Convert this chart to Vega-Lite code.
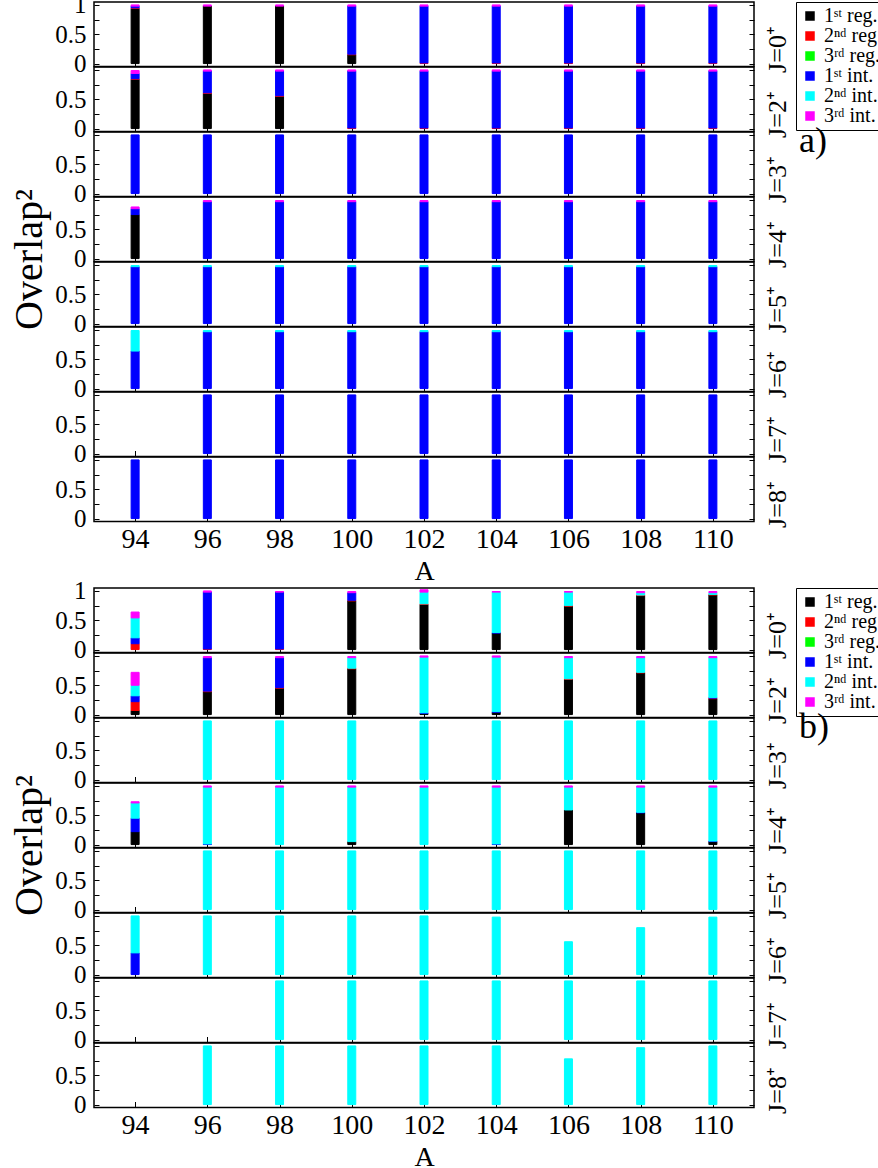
{
"$schema": "https://vega.github.io/schema/vega-lite/v6.json",
"padding": {"left": 9, "top": -8, "right": 0, "bottom": 0},
"config": {
  "font": "Liberation Serif",
  "view": {"stroke": "black", "strokeWidth": 1.5},
  "axis": {"grid": false, "domain": false, "labelFont": "Liberation Serif", "titleFont": "Liberation Serif", "titleFontWeight": "normal", "labelColor": "black", "titleColor": "black", "tickColor": "black"},
  "legend": {"strokeColor": "black", "padding": 4, "symbolType": "square", "symbolSize": 64, "labelFont": "Liberation Serif", "labelFontSize": 20, "labelColor": "black", "rowPadding": 0, "labelLimit": 200}
},
"data": {"values": [
{"p":"a","J":"0","A":94,"k1":0.94,"k2":0.01,"k4":0.03,"k6":0.02},
{"p":"a","J":"0","A":96,"k1":0.98,"k6":0.02},
{"p":"a","J":"0","A":98,"k1":0.98,"k6":0.02},
{"p":"a","J":"0","A":100,"k1":0.15,"k2":0.01,"k4":0.82,"k6":0.02},
{"p":"a","J":"0","A":102,"k2":0.01,"k4":0.97,"k6":0.02},
{"p":"a","J":"0","A":104,"k2":0.01,"k4":0.97,"k6":0.02},
{"p":"a","J":"0","A":106,"k2":0.01,"k4":0.97,"k6":0.02},
{"p":"a","J":"0","A":108,"k2":0.01,"k4":0.97,"k6":0.02},
{"p":"a","J":"0","A":110,"k2":0.01,"k4":0.97,"k6":0.02},
{"p":"a","J":"2","A":94,"k1":0.84,"k2":0.01,"k4":0.09,"k6":0.05},
{"p":"a","J":"2","A":96,"k1":0.6,"k2":0.01,"k4":0.37,"k6":0.02},
{"p":"a","J":"2","A":98,"k1":0.55,"k2":0.01,"k4":0.42,"k6":0.02},
{"p":"a","J":"2","A":100,"k2":0.01,"k4":0.97,"k6":0.02},
{"p":"a","J":"2","A":102,"k2":0.01,"k4":0.97,"k6":0.02},
{"p":"a","J":"2","A":104,"k2":0.01,"k4":0.97,"k6":0.02},
{"p":"a","J":"2","A":106,"k2":0.01,"k4":0.97,"k6":0.02},
{"p":"a","J":"2","A":108,"k2":0.01,"k4":0.97,"k6":0.02},
{"p":"a","J":"2","A":110,"k2":0.01,"k4":0.97,"k6":0.02},
{"p":"a","J":"3","A":94,"k4":1.0},
{"p":"a","J":"3","A":96,"k4":1.0},
{"p":"a","J":"3","A":98,"k4":1.0},
{"p":"a","J":"3","A":100,"k4":1.0},
{"p":"a","J":"3","A":102,"k4":1.0},
{"p":"a","J":"3","A":104,"k4":1.0},
{"p":"a","J":"3","A":106,"k4":1.0},
{"p":"a","J":"3","A":108,"k4":1.0},
{"p":"a","J":"3","A":110,"k4":1.0},
{"p":"a","J":"4","A":94,"k1":0.75,"k4":0.1,"k6":0.03},
{"p":"a","J":"4","A":96,"k4":0.97,"k6":0.02},
{"p":"a","J":"4","A":98,"k4":0.97,"k6":0.02},
{"p":"a","J":"4","A":100,"k4":0.97,"k6":0.02},
{"p":"a","J":"4","A":102,"k4":0.97,"k6":0.02},
{"p":"a","J":"4","A":104,"k4":0.97,"k6":0.02},
{"p":"a","J":"4","A":106,"k4":0.97,"k6":0.02},
{"p":"a","J":"4","A":108,"k4":0.97,"k6":0.02},
{"p":"a","J":"4","A":110,"k4":0.97,"k6":0.02},
{"p":"a","J":"5","A":94,"k4":0.97,"k5":0.02},
{"p":"a","J":"5","A":96,"k4":0.97,"k5":0.02},
{"p":"a","J":"5","A":98,"k4":0.97,"k5":0.02},
{"p":"a","J":"5","A":100,"k4":0.97,"k5":0.02},
{"p":"a","J":"5","A":102,"k4":0.97,"k5":0.02},
{"p":"a","J":"5","A":104,"k4":0.97,"k5":0.02},
{"p":"a","J":"5","A":106,"k4":0.97,"k5":0.02},
{"p":"a","J":"5","A":108,"k4":0.97,"k5":0.02},
{"p":"a","J":"5","A":110,"k4":0.97,"k5":0.02},
{"p":"a","J":"6","A":94,"k4":0.64,"k5":0.35},
{"p":"a","J":"6","A":96,"k4":0.97,"k5":0.02},
{"p":"a","J":"6","A":98,"k4":0.97,"k5":0.02},
{"p":"a","J":"6","A":100,"k4":0.97,"k5":0.02},
{"p":"a","J":"6","A":102,"k4":0.97,"k5":0.02},
{"p":"a","J":"6","A":104,"k4":0.97,"k5":0.02},
{"p":"a","J":"6","A":106,"k4":0.97,"k5":0.02},
{"p":"a","J":"6","A":108,"k4":0.97,"k5":0.02},
{"p":"a","J":"6","A":110,"k4":0.97,"k5":0.02},
{"p":"a","J":"7","A":96,"k4":1.0},
{"p":"a","J":"7","A":98,"k4":1.0},
{"p":"a","J":"7","A":100,"k4":1.0},
{"p":"a","J":"7","A":102,"k4":1.0},
{"p":"a","J":"7","A":104,"k4":1.0},
{"p":"a","J":"7","A":106,"k4":1.0},
{"p":"a","J":"7","A":108,"k4":1.0},
{"p":"a","J":"7","A":110,"k4":1.0},
{"p":"a","J":"8","A":94,"k4":1.0},
{"p":"a","J":"8","A":96,"k4":1.0},
{"p":"a","J":"8","A":98,"k4":1.0},
{"p":"a","J":"8","A":100,"k4":1.0},
{"p":"a","J":"8","A":102,"k4":1.0},
{"p":"a","J":"8","A":104,"k4":1.0},
{"p":"a","J":"8","A":106,"k4":1.0},
{"p":"a","J":"8","A":108,"k4":1.0},
{"p":"a","J":"8","A":110,"k4":1.0},
{"p":"b","J":"0","A":94,"k2":0.1,"k4":0.1,"k5":0.34,"k6":0.1},
{"p":"b","J":"0","A":96,"k2":0.01,"k4":0.97,"k6":0.02},
{"p":"b","J":"0","A":98,"k2":0.01,"k4":0.97,"k6":0.01},
{"p":"b","J":"0","A":100,"k1":0.83,"k2":0.01,"k4":0.13,"k6":0.02},
{"p":"b","J":"0","A":102,"k1":0.77,"k2":0.01,"k5":0.2,"k6":0.04},
{"p":"b","J":"0","A":104,"k1":0.28,"k4":0.01,"k5":0.69,"k6":0.01},
{"p":"b","J":"0","A":106,"k1":0.74,"k2":0.01,"k5":0.23,"k6":0.01},
{"p":"b","J":"0","A":108,"k1":0.92,"k2":0.01,"k5":0.04,"k6":0.02},
{"p":"b","J":"0","A":110,"k1":0.93,"k2":0.01,"k5":0.03,"k6":0.02},
{"p":"b","J":"2","A":94,"k1":0.07,"k2":0.15,"k4":0.1,"k5":0.18,"k6":0.22},
{"p":"b","J":"2","A":96,"k1":0.39,"k2":0.01,"k4":0.57,"k6":0.02},
{"p":"b","J":"2","A":98,"k1":0.45,"k2":0.01,"k4":0.51,"k6":0.02},
{"p":"b","J":"2","A":100,"k1":0.78,"k2":0.01,"k5":0.18,"k6":0.02},
{"p":"b","J":"2","A":102,"k1":0.02,"k4":0.01,"k5":0.95,"k6":0.02},
{"p":"b","J":"2","A":104,"k1":0.04,"k4":0.01,"k5":0.93,"k6":0.02},
{"p":"b","J":"2","A":106,"k1":0.6,"k2":0.01,"k5":0.36,"k6":0.02},
{"p":"b","J":"2","A":108,"k1":0.71,"k2":0.01,"k5":0.25,"k6":0.02},
{"p":"b","J":"2","A":110,"k1":0.27,"k2":0.01,"k4":0.01,"k5":0.68,"k6":0.02},
{"p":"b","J":"3","A":96,"k5":1.0},
{"p":"b","J":"3","A":98,"k5":1.0},
{"p":"b","J":"3","A":100,"k5":1.0},
{"p":"b","J":"3","A":102,"k5":1.0},
{"p":"b","J":"3","A":104,"k5":1.0},
{"p":"b","J":"3","A":106,"k5":1.0},
{"p":"b","J":"3","A":108,"k5":1.0},
{"p":"b","J":"3","A":110,"k5":1.0},
{"p":"b","J":"4","A":94,"k1":0.22,"k4":0.23,"k5":0.26,"k6":0.02},
{"p":"b","J":"4","A":96,"k4":0.01,"k5":0.97,"k6":0.02},
{"p":"b","J":"4","A":98,"k5":0.98,"k6":0.02},
{"p":"b","J":"4","A":100,"k1":0.05,"k5":0.93,"k6":0.02},
{"p":"b","J":"4","A":102,"k5":0.98,"k6":0.02},
{"p":"b","J":"4","A":104,"k4":0.01,"k5":0.97,"k6":0.02},
{"p":"b","J":"4","A":106,"k1":0.59,"k5":0.39,"k6":0.02},
{"p":"b","J":"4","A":108,"k1":0.54,"k4":0.01,"k5":0.43,"k6":0.02},
{"p":"b","J":"4","A":110,"k1":0.05,"k4":0.01,"k5":0.92,"k6":0.02},
{"p":"b","J":"5","A":96,"k5":1.0},
{"p":"b","J":"5","A":98,"k5":1.0},
{"p":"b","J":"5","A":100,"k5":1.0},
{"p":"b","J":"5","A":102,"k5":1.0},
{"p":"b","J":"5","A":104,"k5":1.0},
{"p":"b","J":"5","A":106,"k5":1.0},
{"p":"b","J":"5","A":108,"k5":1.0},
{"p":"b","J":"5","A":110,"k5":1.0},
{"p":"b","J":"6","A":94,"k4":0.37,"k5":0.63},
{"p":"b","J":"6","A":96,"k5":1.0},
{"p":"b","J":"6","A":98,"k5":1.0},
{"p":"b","J":"6","A":100,"k5":1.0},
{"p":"b","J":"6","A":102,"k5":1.0},
{"p":"b","J":"6","A":104,"k5":0.98},
{"p":"b","J":"6","A":106,"k5":0.56},
{"p":"b","J":"6","A":108,"k5":0.8},
{"p":"b","J":"6","A":110,"k5":0.98},
{"p":"b","J":"7","A":98,"k5":1.0},
{"p":"b","J":"7","A":100,"k5":1.0},
{"p":"b","J":"7","A":102,"k5":1.0},
{"p":"b","J":"7","A":104,"k5":1.0},
{"p":"b","J":"7","A":106,"k5":1.0},
{"p":"b","J":"7","A":108,"k5":1.0},
{"p":"b","J":"7","A":110,"k5":1.0},
{"p":"b","J":"8","A":96,"k5":1.0},
{"p":"b","J":"8","A":98,"k5":1.0},
{"p":"b","J":"8","A":100,"k5":1.0},
{"p":"b","J":"8","A":102,"k5":1.0},
{"p":"b","J":"8","A":104,"k5":1.0},
{"p":"b","J":"8","A":106,"k5":0.78},
{"p":"b","J":"8","A":108,"k5":0.97},
{"p":"b","J":"8","A":110,"k5":1.0}
]},
"bounds": "flush",
"spacing": 0,
"resolve": {"scale": {"fill": "independent", "stroke": "independent", "shape": "independent"}},
"vconcat": [
 {"transform": [{"filter": "datum.p == 'a' && datum.J == '0'"}, {"fold": ["k1","k2","k3","k4","k5","k6"]}, {"filter": "datum.value > 0"}],
  "width": 660, "height": 64.5, "resolve": {"axis": {"y": "independent"}},
  "layer": [
   {"mark": {"type": "bar", "size": 8, "strokeWidth": 1},
    "encoding": {
     "x": {"field": "A", "type": "quantitative", "scale": {"domain": [93, 111], "nice": false, "zero": false}, "axis": {"values": [94,96,98,100,102,104,106,108,110], "labels": false, "title": null, "tickSize": -6}},
     "y": {"field": "value", "type": "quantitative", "stack": "zero", "scale": {"domain": [-0.05, 1.05], "nice": false, "zero": false}, "axis": {"values": [0,0.25,0.5,0.75,1], "format": "~g", "labelExpr": "datum.value == 0.25 || datum.value == 0.75 ? '' : datum.label", "title": null, "labelFontSize": 25, "tickSize": -5, "labelPadding": 13}},
     "fill": {"field": "key", "type": "nominal", "scale": {"domain": ["k1","k2","k3","k4","k5","k6"], "range": ["#000000","#ff0000","#00ff00","#0000ff","#00ffff","#ff00ff"]}, "legend": {"title": null, "orient": "none", "legendX": 702, "legendY": 0, "labelExpr": "{'k1':'1ˢᵗ reg.','k2':'2ⁿᵈ reg.','k3':'3ʳᵈ reg.','k4':'1ˢᵗ int.','k5':'2ⁿᵈ int.','k6':'3ʳᵈ int.'}[datum.value]"}},
     "stroke": {"field": "key", "type": "nominal", "scale": {"domain": ["k1","k2","k3","k4","k5","k6"], "range": ["#000000","#ff0000","#00ff00","#0000ff","#00ffff","#ff00ff"]}, "legend": null},
     "order": {"field": "key", "sort": "ascending"}}},
   {"mark": {"type": "rule", "opacity": 0}, "encoding": {"y": {"field": "value", "type": "quantitative", "axis": {"orient": "right", "values": [0,0.25,0.5,0.75,1], "labels": false, "tickSize": -5, "title": "J=0⁺", "titleAngle": -90, "titleBaseline": "top", "titleFontSize": 26, "titlePadding": 10, "titleY": 47}}}},
   {"mark": {"type": "point", "opacity": 0}, "encoding": {"shape": {"datum": "a)", "legend": {"title": null, "orient": "none", "legendX": 669, "legendY": 121, "strokeColor": "rgba(0,0,0,0)", "symbolOpacity": 0, "symbolSize": 1, "labelFontSize": 36, "padding": 0, "labelOffset": 0}}}}
  ]},
 {"transform": [{"filter": "datum.p == 'a' && datum.J == '2'"}, {"fold": ["k1","k2","k3","k4","k5","k6"]}, {"filter": "datum.value > 0"}],
  "width": 660, "height": 64.5, "resolve": {"axis": {"y": "independent"}},
  "layer": [
   {"mark": {"type": "bar", "size": 8, "strokeWidth": 1},
    "encoding": {
     "x": {"field": "A", "type": "quantitative", "scale": {"domain": [93, 111], "nice": false, "zero": false}, "axis": {"values": [94,96,98,100,102,104,106,108,110], "labels": false, "title": null, "tickSize": -6}},
     "y": {"field": "value", "type": "quantitative", "stack": "zero", "scale": {"domain": [-0.05, 1.05], "nice": false, "zero": false}, "axis": {"values": [0,0.25,0.5,0.75,1], "format": "~g", "labelExpr": "datum.value == 0 || datum.value == 0.5 ? datum.label : ''", "title": null, "labelFontSize": 25, "tickSize": -5, "labelPadding": 13}},
     "fill": {"field": "key", "type": "nominal", "scale": {"domain": ["k1","k2","k3","k4","k5","k6"], "range": ["#000000","#ff0000","#00ff00","#0000ff","#00ffff","#ff00ff"]}, "legend": null},
     "stroke": {"field": "key", "type": "nominal", "scale": {"domain": ["k1","k2","k3","k4","k5","k6"], "range": ["#000000","#ff0000","#00ff00","#0000ff","#00ffff","#ff00ff"]}, "legend": null},
     "order": {"field": "key", "sort": "ascending"}}},
   {"mark": {"type": "rule", "opacity": 0}, "encoding": {"y": {"field": "value", "type": "quantitative", "axis": {"orient": "right", "values": [0,0.25,0.5,0.75,1], "labels": false, "tickSize": -5, "title": "J=2⁺", "titleAngle": -90, "titleBaseline": "top", "titleFontSize": 26, "titlePadding": 10, "titleY": 47}}}}
  ]},
 {"transform": [{"filter": "datum.p == 'a' && datum.J == '3'"}, {"fold": ["k1","k2","k3","k4","k5","k6"]}, {"filter": "datum.value > 0"}],
  "width": 660, "height": 64.5, "resolve": {"axis": {"y": "independent"}},
  "layer": [
   {"mark": {"type": "bar", "size": 8, "strokeWidth": 1},
    "encoding": {
     "x": {"field": "A", "type": "quantitative", "scale": {"domain": [93, 111], "nice": false, "zero": false}, "axis": {"values": [94,96,98,100,102,104,106,108,110], "labels": false, "title": null, "tickSize": -6}},
     "y": {"field": "value", "type": "quantitative", "stack": "zero", "scale": {"domain": [-0.05, 1.05], "nice": false, "zero": false}, "axis": {"values": [0,0.25,0.5,0.75,1], "format": "~g", "labelExpr": "datum.value == 0 || datum.value == 0.5 ? datum.label : ''", "title": null, "labelFontSize": 25, "tickSize": -5, "labelPadding": 13}},
     "fill": {"field": "key", "type": "nominal", "scale": {"domain": ["k1","k2","k3","k4","k5","k6"], "range": ["#000000","#ff0000","#00ff00","#0000ff","#00ffff","#ff00ff"]}, "legend": null},
     "stroke": {"field": "key", "type": "nominal", "scale": {"domain": ["k1","k2","k3","k4","k5","k6"], "range": ["#000000","#ff0000","#00ff00","#0000ff","#00ffff","#ff00ff"]}, "legend": null},
     "order": {"field": "key", "sort": "ascending"}}},
   {"mark": {"type": "rule", "opacity": 0}, "encoding": {"y": {"field": "value", "type": "quantitative", "axis": {"orient": "right", "values": [0,0.25,0.5,0.75,1], "labels": false, "tickSize": -5, "title": "J=3⁺", "titleAngle": -90, "titleBaseline": "top", "titleFontSize": 26, "titlePadding": 10, "titleY": 47}}}}
  ]},
 {"transform": [{"filter": "datum.p == 'a' && datum.J == '4'"}, {"fold": ["k1","k2","k3","k4","k5","k6"]}, {"filter": "datum.value > 0"}],
  "width": 660, "height": 64.5, "resolve": {"axis": {"y": "independent"}},
  "layer": [
   {"mark": {"type": "bar", "size": 8, "strokeWidth": 1},
    "encoding": {
     "x": {"field": "A", "type": "quantitative", "scale": {"domain": [93, 111], "nice": false, "zero": false}, "axis": {"values": [94,96,98,100,102,104,106,108,110], "labels": false, "title": null, "tickSize": -6}},
     "y": {"field": "value", "type": "quantitative", "stack": "zero", "scale": {"domain": [-0.05, 1.05], "nice": false, "zero": false}, "axis": {"values": [0,0.25,0.5,0.75,1], "format": "~g", "labelExpr": "datum.value == 0 || datum.value == 0.5 ? datum.label : ''", "title": "Overlap²", "titleFontSize": 40, "titlePadding": 5, "titleY": 62, "labelFontSize": 25, "tickSize": -5, "labelPadding": 13}},
     "fill": {"field": "key", "type": "nominal", "scale": {"domain": ["k1","k2","k3","k4","k5","k6"], "range": ["#000000","#ff0000","#00ff00","#0000ff","#00ffff","#ff00ff"]}, "legend": null},
     "stroke": {"field": "key", "type": "nominal", "scale": {"domain": ["k1","k2","k3","k4","k5","k6"], "range": ["#000000","#ff0000","#00ff00","#0000ff","#00ffff","#ff00ff"]}, "legend": null},
     "order": {"field": "key", "sort": "ascending"}}},
   {"mark": {"type": "rule", "opacity": 0}, "encoding": {"y": {"field": "value", "type": "quantitative", "axis": {"orient": "right", "values": [0,0.25,0.5,0.75,1], "labels": false, "tickSize": -5, "title": "J=4⁺", "titleAngle": -90, "titleBaseline": "top", "titleFontSize": 26, "titlePadding": 10, "titleY": 47}}}}
  ]},
 {"transform": [{"filter": "datum.p == 'a' && datum.J == '5'"}, {"fold": ["k1","k2","k3","k4","k5","k6"]}, {"filter": "datum.value > 0"}],
  "width": 660, "height": 64.5, "resolve": {"axis": {"y": "independent"}},
  "layer": [
   {"mark": {"type": "bar", "size": 8, "strokeWidth": 1},
    "encoding": {
     "x": {"field": "A", "type": "quantitative", "scale": {"domain": [93, 111], "nice": false, "zero": false}, "axis": {"values": [94,96,98,100,102,104,106,108,110], "labels": false, "title": null, "tickSize": -6}},
     "y": {"field": "value", "type": "quantitative", "stack": "zero", "scale": {"domain": [-0.05, 1.05], "nice": false, "zero": false}, "axis": {"values": [0,0.25,0.5,0.75,1], "format": "~g", "labelExpr": "datum.value == 0 || datum.value == 0.5 ? datum.label : ''", "title": null, "labelFontSize": 25, "tickSize": -5, "labelPadding": 13}},
     "fill": {"field": "key", "type": "nominal", "scale": {"domain": ["k1","k2","k3","k4","k5","k6"], "range": ["#000000","#ff0000","#00ff00","#0000ff","#00ffff","#ff00ff"]}, "legend": null},
     "stroke": {"field": "key", "type": "nominal", "scale": {"domain": ["k1","k2","k3","k4","k5","k6"], "range": ["#000000","#ff0000","#00ff00","#0000ff","#00ffff","#ff00ff"]}, "legend": null},
     "order": {"field": "key", "sort": "ascending"}}},
   {"mark": {"type": "rule", "opacity": 0}, "encoding": {"y": {"field": "value", "type": "quantitative", "axis": {"orient": "right", "values": [0,0.25,0.5,0.75,1], "labels": false, "tickSize": -5, "title": "J=5⁺", "titleAngle": -90, "titleBaseline": "top", "titleFontSize": 26, "titlePadding": 10, "titleY": 47}}}}
  ]},
 {"transform": [{"filter": "datum.p == 'a' && datum.J == '6'"}, {"fold": ["k1","k2","k3","k4","k5","k6"]}, {"filter": "datum.value > 0"}],
  "width": 660, "height": 64.5, "resolve": {"axis": {"y": "independent"}},
  "layer": [
   {"mark": {"type": "bar", "size": 8, "strokeWidth": 1},
    "encoding": {
     "x": {"field": "A", "type": "quantitative", "scale": {"domain": [93, 111], "nice": false, "zero": false}, "axis": {"values": [94,96,98,100,102,104,106,108,110], "labels": false, "title": null, "tickSize": -6}},
     "y": {"field": "value", "type": "quantitative", "stack": "zero", "scale": {"domain": [-0.05, 1.05], "nice": false, "zero": false}, "axis": {"values": [0,0.25,0.5,0.75,1], "format": "~g", "labelExpr": "datum.value == 0 || datum.value == 0.5 ? datum.label : ''", "title": null, "labelFontSize": 25, "tickSize": -5, "labelPadding": 13}},
     "fill": {"field": "key", "type": "nominal", "scale": {"domain": ["k1","k2","k3","k4","k5","k6"], "range": ["#000000","#ff0000","#00ff00","#0000ff","#00ffff","#ff00ff"]}, "legend": null},
     "stroke": {"field": "key", "type": "nominal", "scale": {"domain": ["k1","k2","k3","k4","k5","k6"], "range": ["#000000","#ff0000","#00ff00","#0000ff","#00ffff","#ff00ff"]}, "legend": null},
     "order": {"field": "key", "sort": "ascending"}}},
   {"mark": {"type": "rule", "opacity": 0}, "encoding": {"y": {"field": "value", "type": "quantitative", "axis": {"orient": "right", "values": [0,0.25,0.5,0.75,1], "labels": false, "tickSize": -5, "title": "J=6⁺", "titleAngle": -90, "titleBaseline": "top", "titleFontSize": 26, "titlePadding": 10, "titleY": 47}}}}
  ]},
 {"transform": [{"filter": "datum.p == 'a' && datum.J == '7'"}, {"fold": ["k1","k2","k3","k4","k5","k6"]}, {"filter": "datum.value > 0"}],
  "width": 660, "height": 64.5, "resolve": {"axis": {"y": "independent"}},
  "layer": [
   {"mark": {"type": "bar", "size": 8, "strokeWidth": 1},
    "encoding": {
     "x": {"field": "A", "type": "quantitative", "scale": {"domain": [93, 111], "nice": false, "zero": false}, "axis": {"values": [94,96,98,100,102,104,106,108,110], "labels": false, "title": null, "tickSize": -6}},
     "y": {"field": "value", "type": "quantitative", "stack": "zero", "scale": {"domain": [-0.05, 1.05], "nice": false, "zero": false}, "axis": {"values": [0,0.25,0.5,0.75,1], "format": "~g", "labelExpr": "datum.value == 0 || datum.value == 0.5 ? datum.label : ''", "title": null, "labelFontSize": 25, "tickSize": -5, "labelPadding": 13}},
     "fill": {"field": "key", "type": "nominal", "scale": {"domain": ["k1","k2","k3","k4","k5","k6"], "range": ["#000000","#ff0000","#00ff00","#0000ff","#00ffff","#ff00ff"]}, "legend": null},
     "stroke": {"field": "key", "type": "nominal", "scale": {"domain": ["k1","k2","k3","k4","k5","k6"], "range": ["#000000","#ff0000","#00ff00","#0000ff","#00ffff","#ff00ff"]}, "legend": null},
     "order": {"field": "key", "sort": "ascending"}}},
   {"mark": {"type": "rule", "opacity": 0}, "encoding": {"y": {"field": "value", "type": "quantitative", "axis": {"orient": "right", "values": [0,0.25,0.5,0.75,1], "labels": false, "tickSize": -5, "title": "J=7⁺", "titleAngle": -90, "titleBaseline": "top", "titleFontSize": 26, "titlePadding": 10, "titleY": 47}}}}
  ]},
 {"transform": [{"filter": "datum.p == 'a' && datum.J == '8'"}, {"fold": ["k1","k2","k3","k4","k5","k6"]}, {"filter": "datum.value > 0"}],
  "width": 660, "height": 64.5, "resolve": {"axis": {"y": "independent"}},
  "layer": [
   {"mark": {"type": "bar", "size": 8, "strokeWidth": 1},
    "encoding": {
     "x": {"field": "A", "type": "quantitative", "scale": {"domain": [93, 111], "nice": false, "zero": false}, "axis": {"values": [94,96,98,100,102,104,106,108,110], "title": "A", "labelFontSize": 28, "titleFontSize": 28, "tickSize": -6, "labelPadding": 10, "titlePadding": 4}},
     "y": {"field": "value", "type": "quantitative", "stack": "zero", "scale": {"domain": [-0.05, 1.05], "nice": false, "zero": false}, "axis": {"values": [0,0.25,0.5,0.75,1], "format": "~g", "labelExpr": "datum.value == 0 || datum.value == 0.5 ? datum.label : ''", "title": null, "labelFontSize": 25, "tickSize": -5, "labelPadding": 13}},
     "fill": {"field": "key", "type": "nominal", "scale": {"domain": ["k1","k2","k3","k4","k5","k6"], "range": ["#000000","#ff0000","#00ff00","#0000ff","#00ffff","#ff00ff"]}, "legend": null},
     "stroke": {"field": "key", "type": "nominal", "scale": {"domain": ["k1","k2","k3","k4","k5","k6"], "range": ["#000000","#ff0000","#00ff00","#0000ff","#00ffff","#ff00ff"]}, "legend": null},
     "order": {"field": "key", "sort": "ascending"}}},
   {"mark": {"type": "rule", "opacity": 0}, "encoding": {"y": {"field": "value", "type": "quantitative", "axis": {"orient": "right", "values": [0,0.25,0.5,0.75,1], "labels": false, "tickSize": -5, "title": "J=8⁺", "titleAngle": -90, "titleBaseline": "top", "titleFontSize": 26, "titlePadding": 10, "titleY": 47}}}}
  ]},
 {"data": {"values": []}, "mark": {"type": "point", "opacity": 0}, "width": 660, "height": 66, "view": {"stroke": null}},
 {"transform": [{"filter": "datum.p == 'b' && datum.J == '0'"}, {"fold": ["k1","k2","k3","k4","k5","k6"]}, {"filter": "datum.value > 0"}],
  "width": 660, "height": 64.5, "resolve": {"axis": {"y": "independent"}},
  "layer": [
   {"mark": {"type": "bar", "size": 8, "strokeWidth": 1},
    "encoding": {
     "x": {"field": "A", "type": "quantitative", "scale": {"domain": [93, 111], "nice": false, "zero": false}, "axis": {"values": [94,96,98,100,102,104,106,108,110], "labels": false, "title": null, "tickSize": -6}},
     "y": {"field": "value", "type": "quantitative", "stack": "zero", "scale": {"domain": [-0.05, 1.05], "nice": false, "zero": false}, "axis": {"values": [0,0.25,0.5,0.75,1], "format": "~g", "labelExpr": "datum.value == 0.25 || datum.value == 0.75 ? '' : datum.label", "title": null, "labelFontSize": 25, "tickSize": -5, "labelPadding": 13}},
     "fill": {"field": "key", "type": "nominal", "scale": {"domain": ["k1","k2","k3","k4","k5","k6"], "range": ["#000000","#ff0000","#00ff00","#0000ff","#00ffff","#ff00ff"]}, "legend": {"title": null, "orient": "none", "legendX": 702, "legendY": 0, "labelExpr": "{'k1':'1ˢᵗ reg.','k2':'2ⁿᵈ reg.','k3':'3ʳᵈ reg.','k4':'1ˢᵗ int.','k5':'2ⁿᵈ int.','k6':'3ʳᵈ int.'}[datum.value]"}},
     "stroke": {"field": "key", "type": "nominal", "scale": {"domain": ["k1","k2","k3","k4","k5","k6"], "range": ["#000000","#ff0000","#00ff00","#0000ff","#00ffff","#ff00ff"]}, "legend": null},
     "order": {"field": "key", "sort": "ascending"}}},
   {"mark": {"type": "rule", "opacity": 0}, "encoding": {"y": {"field": "value", "type": "quantitative", "axis": {"orient": "right", "values": [0,0.25,0.5,0.75,1], "labels": false, "tickSize": -5, "title": "J=0⁺", "titleAngle": -90, "titleBaseline": "top", "titleFontSize": 26, "titlePadding": 10, "titleY": 47}}}},
   {"mark": {"type": "point", "opacity": 0}, "encoding": {"shape": {"datum": "b)", "legend": {"title": null, "orient": "none", "legendX": 669, "legendY": 121, "strokeColor": "rgba(0,0,0,0)", "symbolOpacity": 0, "symbolSize": 1, "labelFontSize": 36, "padding": 0, "labelOffset": 0}}}}
  ]},
 {"transform": [{"filter": "datum.p == 'b' && datum.J == '2'"}, {"fold": ["k1","k2","k3","k4","k5","k6"]}, {"filter": "datum.value > 0"}],
  "width": 660, "height": 64.5, "resolve": {"axis": {"y": "independent"}},
  "layer": [
   {"mark": {"type": "bar", "size": 8, "strokeWidth": 1},
    "encoding": {
     "x": {"field": "A", "type": "quantitative", "scale": {"domain": [93, 111], "nice": false, "zero": false}, "axis": {"values": [94,96,98,100,102,104,106,108,110], "labels": false, "title": null, "tickSize": -6}},
     "y": {"field": "value", "type": "quantitative", "stack": "zero", "scale": {"domain": [-0.05, 1.05], "nice": false, "zero": false}, "axis": {"values": [0,0.25,0.5,0.75,1], "format": "~g", "labelExpr": "datum.value == 0 || datum.value == 0.5 ? datum.label : ''", "title": null, "labelFontSize": 25, "tickSize": -5, "labelPadding": 13}},
     "fill": {"field": "key", "type": "nominal", "scale": {"domain": ["k1","k2","k3","k4","k5","k6"], "range": ["#000000","#ff0000","#00ff00","#0000ff","#00ffff","#ff00ff"]}, "legend": null},
     "stroke": {"field": "key", "type": "nominal", "scale": {"domain": ["k1","k2","k3","k4","k5","k6"], "range": ["#000000","#ff0000","#00ff00","#0000ff","#00ffff","#ff00ff"]}, "legend": null},
     "order": {"field": "key", "sort": "ascending"}}},
   {"mark": {"type": "rule", "opacity": 0}, "encoding": {"y": {"field": "value", "type": "quantitative", "axis": {"orient": "right", "values": [0,0.25,0.5,0.75,1], "labels": false, "tickSize": -5, "title": "J=2⁺", "titleAngle": -90, "titleBaseline": "top", "titleFontSize": 26, "titlePadding": 10, "titleY": 47}}}}
  ]},
 {"transform": [{"filter": "datum.p == 'b' && datum.J == '3'"}, {"fold": ["k1","k2","k3","k4","k5","k6"]}, {"filter": "datum.value > 0"}],
  "width": 660, "height": 64.5, "resolve": {"axis": {"y": "independent"}},
  "layer": [
   {"mark": {"type": "bar", "size": 8, "strokeWidth": 1},
    "encoding": {
     "x": {"field": "A", "type": "quantitative", "scale": {"domain": [93, 111], "nice": false, "zero": false}, "axis": {"values": [94,96,98,100,102,104,106,108,110], "labels": false, "title": null, "tickSize": -6}},
     "y": {"field": "value", "type": "quantitative", "stack": "zero", "scale": {"domain": [-0.05, 1.05], "nice": false, "zero": false}, "axis": {"values": [0,0.25,0.5,0.75,1], "format": "~g", "labelExpr": "datum.value == 0 || datum.value == 0.5 ? datum.label : ''", "title": null, "labelFontSize": 25, "tickSize": -5, "labelPadding": 13}},
     "fill": {"field": "key", "type": "nominal", "scale": {"domain": ["k1","k2","k3","k4","k5","k6"], "range": ["#000000","#ff0000","#00ff00","#0000ff","#00ffff","#ff00ff"]}, "legend": null},
     "stroke": {"field": "key", "type": "nominal", "scale": {"domain": ["k1","k2","k3","k4","k5","k6"], "range": ["#000000","#ff0000","#00ff00","#0000ff","#00ffff","#ff00ff"]}, "legend": null},
     "order": {"field": "key", "sort": "ascending"}}},
   {"mark": {"type": "rule", "opacity": 0}, "encoding": {"y": {"field": "value", "type": "quantitative", "axis": {"orient": "right", "values": [0,0.25,0.5,0.75,1], "labels": false, "tickSize": -5, "title": "J=3⁺", "titleAngle": -90, "titleBaseline": "top", "titleFontSize": 26, "titlePadding": 10, "titleY": 47}}}}
  ]},
 {"transform": [{"filter": "datum.p == 'b' && datum.J == '4'"}, {"fold": ["k1","k2","k3","k4","k5","k6"]}, {"filter": "datum.value > 0"}],
  "width": 660, "height": 64.5, "resolve": {"axis": {"y": "independent"}},
  "layer": [
   {"mark": {"type": "bar", "size": 8, "strokeWidth": 1},
    "encoding": {
     "x": {"field": "A", "type": "quantitative", "scale": {"domain": [93, 111], "nice": false, "zero": false}, "axis": {"values": [94,96,98,100,102,104,106,108,110], "labels": false, "title": null, "tickSize": -6}},
     "y": {"field": "value", "type": "quantitative", "stack": "zero", "scale": {"domain": [-0.05, 1.05], "nice": false, "zero": false}, "axis": {"values": [0,0.25,0.5,0.75,1], "format": "~g", "labelExpr": "datum.value == 0 || datum.value == 0.5 ? datum.label : ''", "title": "Overlap²", "titleFontSize": 40, "titlePadding": 5, "titleY": 62, "labelFontSize": 25, "tickSize": -5, "labelPadding": 13}},
     "fill": {"field": "key", "type": "nominal", "scale": {"domain": ["k1","k2","k3","k4","k5","k6"], "range": ["#000000","#ff0000","#00ff00","#0000ff","#00ffff","#ff00ff"]}, "legend": null},
     "stroke": {"field": "key", "type": "nominal", "scale": {"domain": ["k1","k2","k3","k4","k5","k6"], "range": ["#000000","#ff0000","#00ff00","#0000ff","#00ffff","#ff00ff"]}, "legend": null},
     "order": {"field": "key", "sort": "ascending"}}},
   {"mark": {"type": "rule", "opacity": 0}, "encoding": {"y": {"field": "value", "type": "quantitative", "axis": {"orient": "right", "values": [0,0.25,0.5,0.75,1], "labels": false, "tickSize": -5, "title": "J=4⁺", "titleAngle": -90, "titleBaseline": "top", "titleFontSize": 26, "titlePadding": 10, "titleY": 47}}}}
  ]},
 {"transform": [{"filter": "datum.p == 'b' && datum.J == '5'"}, {"fold": ["k1","k2","k3","k4","k5","k6"]}, {"filter": "datum.value > 0"}],
  "width": 660, "height": 64.5, "resolve": {"axis": {"y": "independent"}},
  "layer": [
   {"mark": {"type": "bar", "size": 8, "strokeWidth": 1},
    "encoding": {
     "x": {"field": "A", "type": "quantitative", "scale": {"domain": [93, 111], "nice": false, "zero": false}, "axis": {"values": [94,96,98,100,102,104,106,108,110], "labels": false, "title": null, "tickSize": -6}},
     "y": {"field": "value", "type": "quantitative", "stack": "zero", "scale": {"domain": [-0.05, 1.05], "nice": false, "zero": false}, "axis": {"values": [0,0.25,0.5,0.75,1], "format": "~g", "labelExpr": "datum.value == 0 || datum.value == 0.5 ? datum.label : ''", "title": null, "labelFontSize": 25, "tickSize": -5, "labelPadding": 13}},
     "fill": {"field": "key", "type": "nominal", "scale": {"domain": ["k1","k2","k3","k4","k5","k6"], "range": ["#000000","#ff0000","#00ff00","#0000ff","#00ffff","#ff00ff"]}, "legend": null},
     "stroke": {"field": "key", "type": "nominal", "scale": {"domain": ["k1","k2","k3","k4","k5","k6"], "range": ["#000000","#ff0000","#00ff00","#0000ff","#00ffff","#ff00ff"]}, "legend": null},
     "order": {"field": "key", "sort": "ascending"}}},
   {"mark": {"type": "rule", "opacity": 0}, "encoding": {"y": {"field": "value", "type": "quantitative", "axis": {"orient": "right", "values": [0,0.25,0.5,0.75,1], "labels": false, "tickSize": -5, "title": "J=5⁺", "titleAngle": -90, "titleBaseline": "top", "titleFontSize": 26, "titlePadding": 10, "titleY": 47}}}}
  ]},
 {"transform": [{"filter": "datum.p == 'b' && datum.J == '6'"}, {"fold": ["k1","k2","k3","k4","k5","k6"]}, {"filter": "datum.value > 0"}],
  "width": 660, "height": 64.5, "resolve": {"axis": {"y": "independent"}},
  "layer": [
   {"mark": {"type": "bar", "size": 8, "strokeWidth": 1},
    "encoding": {
     "x": {"field": "A", "type": "quantitative", "scale": {"domain": [93, 111], "nice": false, "zero": false}, "axis": {"values": [94,96,98,100,102,104,106,108,110], "labels": false, "title": null, "tickSize": -6}},
     "y": {"field": "value", "type": "quantitative", "stack": "zero", "scale": {"domain": [-0.05, 1.05], "nice": false, "zero": false}, "axis": {"values": [0,0.25,0.5,0.75,1], "format": "~g", "labelExpr": "datum.value == 0 || datum.value == 0.5 ? datum.label : ''", "title": null, "labelFontSize": 25, "tickSize": -5, "labelPadding": 13}},
     "fill": {"field": "key", "type": "nominal", "scale": {"domain": ["k1","k2","k3","k4","k5","k6"], "range": ["#000000","#ff0000","#00ff00","#0000ff","#00ffff","#ff00ff"]}, "legend": null},
     "stroke": {"field": "key", "type": "nominal", "scale": {"domain": ["k1","k2","k3","k4","k5","k6"], "range": ["#000000","#ff0000","#00ff00","#0000ff","#00ffff","#ff00ff"]}, "legend": null},
     "order": {"field": "key", "sort": "ascending"}}},
   {"mark": {"type": "rule", "opacity": 0}, "encoding": {"y": {"field": "value", "type": "quantitative", "axis": {"orient": "right", "values": [0,0.25,0.5,0.75,1], "labels": false, "tickSize": -5, "title": "J=6⁺", "titleAngle": -90, "titleBaseline": "top", "titleFontSize": 26, "titlePadding": 10, "titleY": 47}}}}
  ]},
 {"transform": [{"filter": "datum.p == 'b' && datum.J == '7'"}, {"fold": ["k1","k2","k3","k4","k5","k6"]}, {"filter": "datum.value > 0"}],
  "width": 660, "height": 64.5, "resolve": {"axis": {"y": "independent"}},
  "layer": [
   {"mark": {"type": "bar", "size": 8, "strokeWidth": 1},
    "encoding": {
     "x": {"field": "A", "type": "quantitative", "scale": {"domain": [93, 111], "nice": false, "zero": false}, "axis": {"values": [94,96,98,100,102,104,106,108,110], "labels": false, "title": null, "tickSize": -6}},
     "y": {"field": "value", "type": "quantitative", "stack": "zero", "scale": {"domain": [-0.05, 1.05], "nice": false, "zero": false}, "axis": {"values": [0,0.25,0.5,0.75,1], "format": "~g", "labelExpr": "datum.value == 0 || datum.value == 0.5 ? datum.label : ''", "title": null, "labelFontSize": 25, "tickSize": -5, "labelPadding": 13}},
     "fill": {"field": "key", "type": "nominal", "scale": {"domain": ["k1","k2","k3","k4","k5","k6"], "range": ["#000000","#ff0000","#00ff00","#0000ff","#00ffff","#ff00ff"]}, "legend": null},
     "stroke": {"field": "key", "type": "nominal", "scale": {"domain": ["k1","k2","k3","k4","k5","k6"], "range": ["#000000","#ff0000","#00ff00","#0000ff","#00ffff","#ff00ff"]}, "legend": null},
     "order": {"field": "key", "sort": "ascending"}}},
   {"mark": {"type": "rule", "opacity": 0}, "encoding": {"y": {"field": "value", "type": "quantitative", "axis": {"orient": "right", "values": [0,0.25,0.5,0.75,1], "labels": false, "tickSize": -5, "title": "J=7⁺", "titleAngle": -90, "titleBaseline": "top", "titleFontSize": 26, "titlePadding": 10, "titleY": 47}}}}
  ]},
 {"transform": [{"filter": "datum.p == 'b' && datum.J == '8'"}, {"fold": ["k1","k2","k3","k4","k5","k6"]}, {"filter": "datum.value > 0"}],
  "width": 660, "height": 64.5, "resolve": {"axis": {"y": "independent"}},
  "layer": [
   {"mark": {"type": "bar", "size": 8, "strokeWidth": 1},
    "encoding": {
     "x": {"field": "A", "type": "quantitative", "scale": {"domain": [93, 111], "nice": false, "zero": false}, "axis": {"values": [94,96,98,100,102,104,106,108,110], "title": "A", "labelFontSize": 28, "titleFontSize": 28, "tickSize": -6, "labelPadding": 10, "titlePadding": 4}},
     "y": {"field": "value", "type": "quantitative", "stack": "zero", "scale": {"domain": [-0.05, 1.05], "nice": false, "zero": false}, "axis": {"values": [0,0.25,0.5,0.75,1], "format": "~g", "labelExpr": "datum.value == 0 || datum.value == 0.5 ? datum.label : ''", "title": null, "labelFontSize": 25, "tickSize": -5, "labelPadding": 13}},
     "fill": {"field": "key", "type": "nominal", "scale": {"domain": ["k1","k2","k3","k4","k5","k6"], "range": ["#000000","#ff0000","#00ff00","#0000ff","#00ffff","#ff00ff"]}, "legend": null},
     "stroke": {"field": "key", "type": "nominal", "scale": {"domain": ["k1","k2","k3","k4","k5","k6"], "range": ["#000000","#ff0000","#00ff00","#0000ff","#00ffff","#ff00ff"]}, "legend": null},
     "order": {"field": "key", "sort": "ascending"}}},
   {"mark": {"type": "rule", "opacity": 0}, "encoding": {"y": {"field": "value", "type": "quantitative", "axis": {"orient": "right", "values": [0,0.25,0.5,0.75,1], "labels": false, "tickSize": -5, "title": "J=8⁺", "titleAngle": -90, "titleBaseline": "top", "titleFontSize": 26, "titlePadding": 10, "titleY": 47}}}}
  ]}
]
}
